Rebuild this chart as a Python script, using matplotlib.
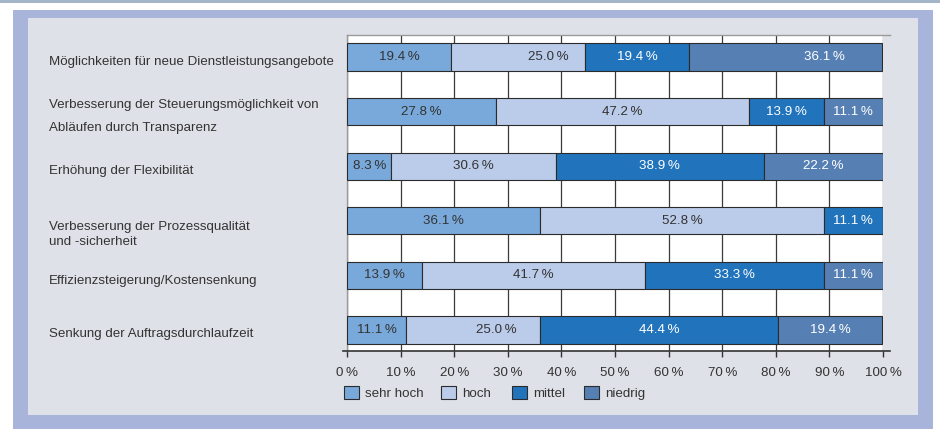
import matplotlib
matplotlib.use("Agg")
import matplotlib.pyplot as plt
from matplotlib.patches import Rectangle
from matplotlib.lines import Line2D
import matplotlib.transforms as mtransforms

# ---------------- data ----------------
categories = [
    "Möglichkeiten für neue Dienstleistungsangebote",
    "Verbesserung der Steuerungsmöglichkeit von\nAbläufen durch Transparenz",
    "Erhöhung der Flexibilität",
    "Verbesserung der Prozessqualität\nund -sicherheit",
    "Effizienzsteigerung/Kostensenkung",
    "Senkung der Auftragsdurchlaufzeit",
]
levels = ["sehr hoch", "hoch", "mittel", "niedrig"]
sehr_hoch = [19.4, 27.8, 8.3, 36.1, 13.9, 11.1]
hoch = [25.0, 47.2, 30.6, 52.8, 41.7, 25.0]
mittel = [19.4, 13.9, 38.9, 11.1, 33.3, 44.4]
niedrig = [36.1, 11.1, 22.2, 0.0, 11.1, 19.4]
xtick_values = [0, 10, 20, 30, 40, 50, 60, 70, 80, 90, 100]
xtick_labels = [f"{v}\u2009%" for v in xtick_values]

# ---------------- style ----------------
colors = ["#79a9da", "#bbcbea", "#2173bb", "#5680b4"]
text_colors = ["#333333", "#333333", "white", "white"]
label_shift = {(0, 1): 5.6, (0, 3): 7.3, (5, 1): 4.3}   # % units, label offsets as in the original
label_dy_px = [5, 5, 5, 14, 6, 4]
label_linespacing = [1.2, 2.3, 1.2, 1.3, 1.2, 1.2]
legend_x_px = [344, 441, 512, 584]

FONT = ["Liberation Sans", "DejaVu Sans"]
plt.rcParams["font.family"] = FONT
FS = 9.6

W, H = 940, 432
fig = plt.figure(figsize=(W / 100, H / 100), dpi=100)
fig.patch.set_facecolor("white")


def px_rect(x0, y0, x1, y1, **kw):
    r = Rectangle((x0 / W, 1 - y1 / H), (x1 - x0) / W, (y1 - y0) / H,
                  transform=fig.transFigure, zorder=-10, **kw)
    fig.add_artist(r)


# background frame
px_rect(0, 0, W, 3, facecolor="#a3b5c6", edgecolor="none")
px_rect(13, 10, 933, 429, facecolor="#a8b4d9", edgecolor="none")
px_rect(28, 18, 918, 415, facecolor="#dfe1e8", edgecolor="none")

# axes
ax = fig.add_axes([347 / W, 1 - 351 / H, (883 - 347) / W, (351 - 35) / H])
ax.set_facecolor("white")
ax.set_zorder(1)

series = [sehr_hoch, hoch, mittel, niedrig]
ypos = list(range(len(categories)))
lefts = [0.0] * len(categories)
handles = []
for k, vals in enumerate(series):
    bars = ax.barh(ypos, vals, left=lefts, height=0.5, color=colors[k],
                   edgecolor="#2b2b2b", linewidth=0.8, zorder=3, label=levels[k])
    handles.append(bars)
    for i, v in enumerate(vals):
        if v > 0:
            cx = lefts[i] + v / 2 + label_shift.get((i, k), 0.0)
            ax.text(cx, i, f"{v:.1f}\u2009%", ha="center", va="center",
                    color=text_colors[k], fontsize=FS, zorder=4)
    lefts = [a + b for a, b in zip(lefts, vals)]

ax.set_xlim(0, 100)
ax.set_ylim(5.385, -0.403)
ax.set_yticks([])
ax.set_xticks(xtick_values)
ax.set_xticklabels(xtick_labels, fontsize=FS, color="#333333")
ax.tick_params(axis="x", direction="out", length=4.5, width=1.0, color="#333333", pad=7)
ax.set_axisbelow(True)
ax.xaxis.grid(True, color="#3a3a3a", linewidth=0.9, zorder=0)

for s in ["top", "right", "bottom"]:
    ax.spines[s].set_visible(False)
ax.spines["left"].set_color("#9a9a9a")
ax.spines["left"].set_linewidth(1.0)

# top and bottom rules extending beyond plot
ax.add_line(Line2D([0, 1.013], [1, 1], transform=ax.transAxes, color="#9a9a9a",
                   linewidth=1.0, clip_on=False, zorder=5))
ax.add_line(Line2D([-0.008, 1.013], [0, 0], transform=ax.transAxes, color="#333333",
                   linewidth=1.2, clip_on=False, zorder=5))

# category labels
blend = mtransforms.blended_transform_factory(fig.transFigure, ax.transData)
for i, cat in enumerate(categories):
    fig.text(49 / W, i + label_dy_px[i] / 54.6, cat, transform=blend, ha="left",
             va="center", fontsize=FS, color="#333333",
             linespacing=label_linespacing[i])

# legend: one entry per column position, as in the original
for k in range(len(levels)):
    leg = fig.legend(handles=[handles[k]], labels=[levels[k]], loc="upper left",
                     bbox_to_anchor=(legend_x_px[k] / W, 1 - 386 / H), frameon=False,
                     fontsize=FS, handlelength=1.1, handleheight=1.1,
                     handletextpad=0.45, borderpad=0, borderaxespad=0)
    for t in leg.get_texts():
        t.set_color("#333333")

fig.savefig("out.png", dpi=100, facecolor=fig.get_facecolor())
